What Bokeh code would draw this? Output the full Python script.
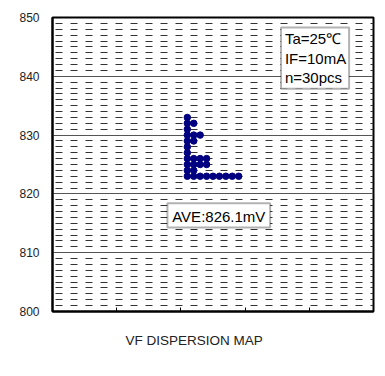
from bokeh.plotting import figure
from bokeh.models import FixedTicker, Label, BoxAnnotation, Range1d, Title
from bokeh.embed import file_html
from bokeh.resources import INLINE

# Data: VF bins (mV) and number of pieces in each bin
vf_bins = [823, 824, 825, 826, 827, 828, 829, 830, 831, 832, 833]
counts = [9, 2, 4, 4, 1, 1, 2, 3, 1, 2, 1]
y_ticks = [800, 810, 820, 830, 840, 850]
x_ticks = [0, 1, 2, 3, 4, 5]
cond_text = ["Ta=25\u2103", "IF=10mA", "n=30pcs"]
ave_text = "AVE:826.1mV"
title_text = "VF DISPERSION MAP"

# stacking layout for the dot map
x0, step = 2.1, 0.1
xs, ys = [], []
for v, c in zip(vf_bins, counts):
    for i in range(c):
        xs.append(x0 + i * step)
        ys.append(v)

p = figure(frame_width=321, frame_height=294, output_backend="svg", toolbar_location=None,
           x_range=Range1d(0, 5), y_range=Range1d(800, 850),
           min_border_left=52, min_border_top=17, min_border_right=8, min_border_bottom=10)
p.background_fill_color = "white"
p.border_fill_color = "white"
p.outline_line_color = "black"
p.outline_line_width = 2

p.yaxis.ticker = FixedTicker(ticks=y_ticks, minor_ticks=[v for v in range(801, 850) if v % 10])
p.xaxis.ticker = FixedTicker(ticks=x_ticks, minor_ticks=[])
p.xaxis.major_label_overrides = {t: "" for t in x_ticks}
p.xaxis.major_tick_in = 4
p.xaxis.major_tick_out = 0
p.xaxis.minor_tick_in = 0
p.xaxis.minor_tick_out = 0
p.xaxis.axis_line_width = 2
p.xaxis.major_tick_line_color = "black"

p.yaxis.major_tick_in = 0
p.yaxis.major_tick_out = 0
p.yaxis.minor_tick_in = 0
p.yaxis.minor_tick_out = 0
p.yaxis.axis_line_width = 2
p.yaxis.major_label_standoff = 13
p.yaxis.major_label_text_font = "Liberation Sans"
p.yaxis.major_label_text_font_size = "12px"
p.yaxis.major_label_text_color = "#222222"

p.xgrid.grid_line_color = None
p.ygrid.grid_line_color = "#555555"
p.ygrid.grid_line_width = 1
p.ygrid.minor_grid_line_color = "#333333"
p.ygrid.minor_grid_line_width = 1
p.ygrid.minor_grid_line_dash = "7 8"
p.ygrid.minor_grid_line_dash_offset = 12

p.scatter(xs, ys, size=6.5, color="#000080", line_color="#000080")

# condition box
p.add_layout(BoxAnnotation(left=3.56, right=4.62, top=848.3, bottom=837.9,
                           fill_color="white", fill_alpha=1, line_color="black", line_width=2))
for t, yy in zip(cond_text, [846.4, 843.1, 839.8]):
    p.add_layout(Label(x=3.62, y=yy, text=t, text_font="Liberation Sans", text_font_size="15px",
                       text_baseline="middle", text_align="left", text_color="black"))

# average box
p.add_layout(BoxAnnotation(left=1.79, right=3.39, top=818.4, bottom=814.3,
                           fill_color="white", fill_alpha=1, line_color="black", line_width=2))
p.add_layout(Label(x=2.59, y=816.2, text=ave_text, text_font="Liberation Sans", text_font_size="15px",
                   text_baseline="middle", text_align="center", text_color="black"))

p.add_layout(Title(text=title_text, align="left", offset=73, standoff=39,
                   text_font="Liberation Sans", text_font_size="13.5px", text_font_style="normal",
                   text_color="#222222"), "below")

open("out.html", "w").write(file_html(p, INLINE))
